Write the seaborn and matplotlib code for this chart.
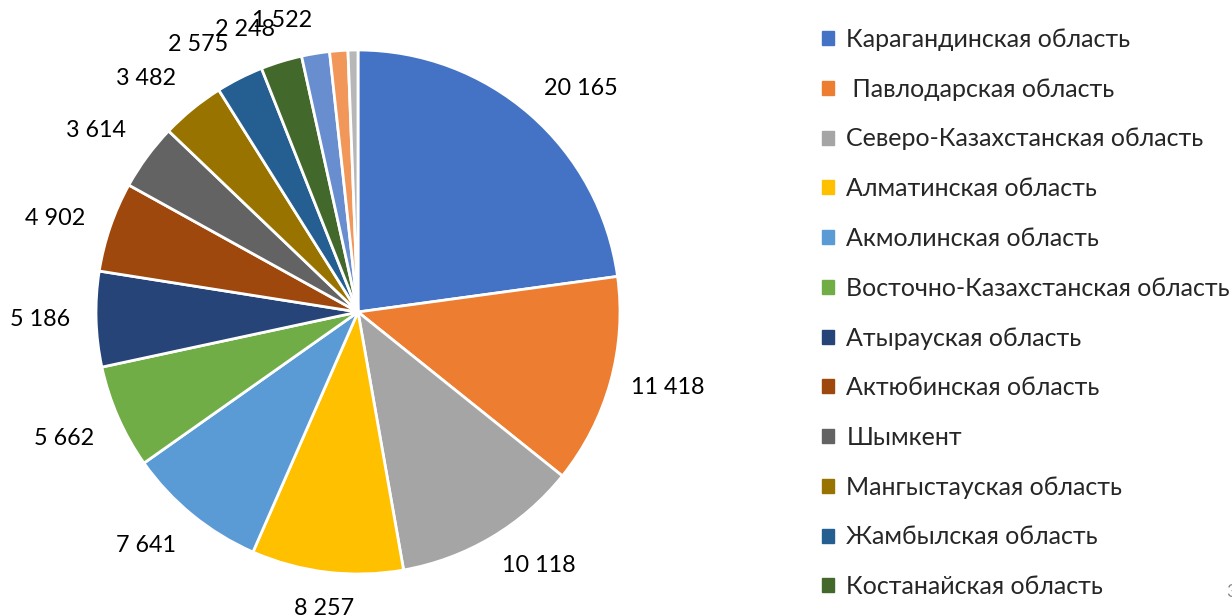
"""
Pie chart: values by region (Kazakhstan), recreated with seaborn/matplotlib.
"""

import numpy as np
import matplotlib
matplotlib.use("Agg")
import matplotlib.pyplot as plt
import matplotlib.patches as mpatches
import seaborn as sns

# data
regions = [
    "Карагандинская область",
    " Павлодарская область",
    "Северо-Казахстанская область",
    "Алматинская область",
    "Акмолинская область",
    "Восточно-Казахстанская область",
    "Атырауская область",
    "Актюбинская область",
    "Шымкент",
    "Мангыстауская область",
    "Жамбылская область",
    "Костанайская область",
    "Прочие 1",
    "Прочие 2",
    "Прочие 3",
]
values = [20165, 11418, 10118, 8257, 7641, 5662, 5186, 4902, 3614, 3482,
          2575, 2248, 1522, 990, 540]
shown_labels = ["20 165", "11 418", "10 118", "8 257", "7 641", "5 662",
                "5 186", "4 902", "3 614", "3 482", "2 575", "2 248",
                "1 522", "", ""]
colors = ["#4472C4", "#ED7D31", "#A5A5A5", "#FFC000", "#5B9BD5", "#70AD47",
          "#264478", "#9E480E", "#636363", "#997300", "#255E91", "#43682B",
          "#698ED0", "#F1975A", "#B7B7B7"]
n_legend = 12

sns.set_style("white")
plt.rcParams['font.family'] = ['Lato', 'DejaVu Sans']

W, H = 1232, 616
fig = plt.figure(figsize=(W / 100, H / 100), dpi=100)

cx, cy, r = 358, 312, 262
ax = fig.add_axes([(cx - r) / W, (H - cy - r) / H, 2 * r / W, 2 * r / H])
ax.axis('off')

palette = sns.color_palette(colors)
wedges, _ = ax.pie(values, colors=palette, startangle=90, counterclock=False,
                   radius=1.0, wedgeprops=dict(edgecolor='white', linewidth=2))
ax.set_xlim(-1, 1)
ax.set_ylim(-1, 1)
ax.set_aspect('equal')

# value labels outside the slices
for w, lab in zip(wedges, shown_labels):
    if not lab:
        continue
    ang = np.deg2rad((w.theta1 + w.theta2) / 2)
    ux, uy = np.cos(ang), np.sin(ang)
    dist = 1.10 if ux < 0 else 1.08
    if uy > 0.9:
        dist = 1.085
    x, y = dist * ux, dist * uy
    if ux > 0.35:
        ha = 'left'
    elif ux < -0.35 or (ux < -0.1 and uy > 0):
        ha = 'right'
    else:
        ha = 'center'
    va = 'bottom' if uy > 0.35 else ('top' if uy < -0.35 else 'center')
    ax.text(x, y, lab, ha=ha, va=va, fontsize=16.8, color='black',
            clip_on=False)

handles = [mpatches.Patch(color=c) for c in colors[:n_legend]]
fig.legend(handles, regions[:n_legend], loc='upper left',
           bbox_to_anchor=(812 / W, 1 - 18 / H), frameon=False,
           fontsize=18, handlelength=0.48, handleheight=0.48,
           handletextpad=0.5, labelspacing=1.07, borderaxespad=0)

# page number, partly cut off at the edge
fig.text(1226 / W, 1 - 592 / H, "3", fontsize=13, color='#888888',
         ha='left', va='center')

fig.savefig("out.png", dpi=100)
plt.close(fig)
